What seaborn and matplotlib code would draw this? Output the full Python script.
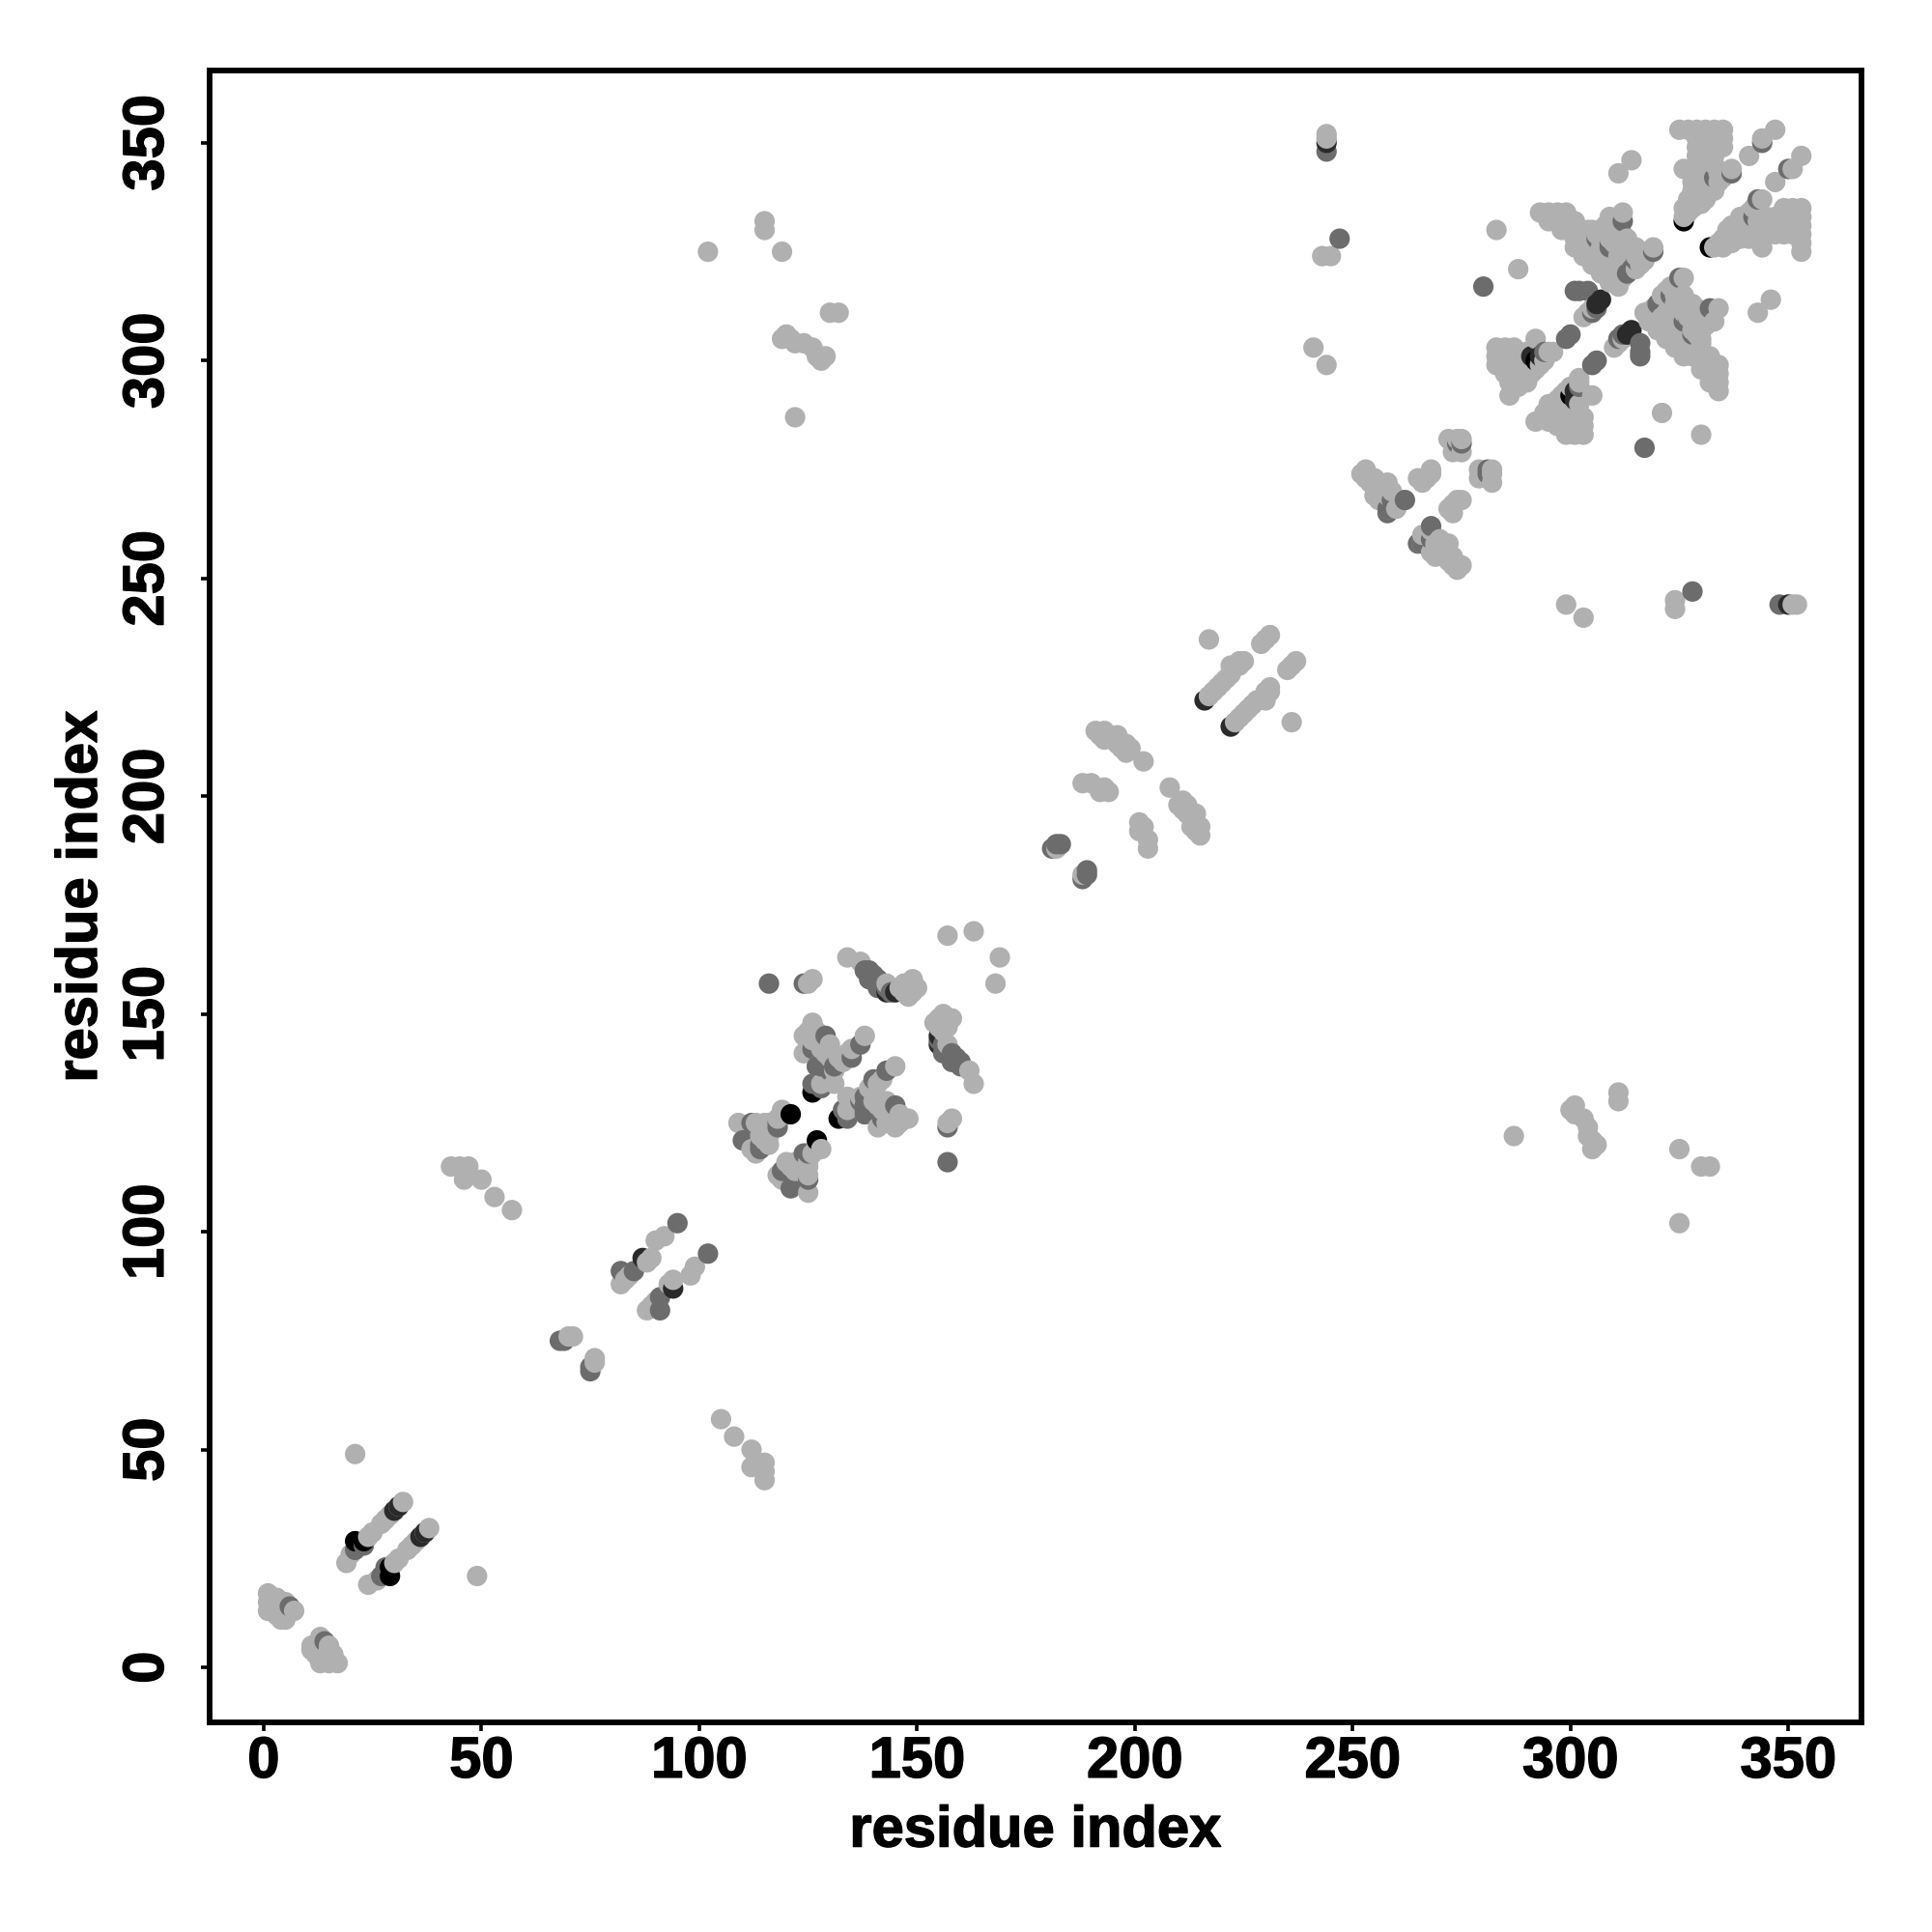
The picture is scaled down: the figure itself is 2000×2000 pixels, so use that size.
import matplotlib
matplotlib.use("Agg")
import matplotlib.pyplot as plt
import matplotlib.patheffects as pe
import pandas as pd
import seaborn as sns

# Contacts, upper triangle (residue i, residue j); mirrored when drawn.
LIGHT = [
 (1,13),(1,15),(1,17),(2,14),(2,16),(3,12),(3,14),(3,16),(4,11),(4,13),(4,15),(5,11),(5,13),(5,15),(7,13),
 (19,24),(20,26),(24,30),(25,31),(27,33),(28,34),(29,35),(31,37),(32,38),(21,49),
 (43,115),(45,115),(47,115),(46,112),(50,112),(53,108),(57,105),
 (70,76),(71,76),(82,88),(83,89),(89,94),(90,98),(92,99),(88,93),(84,90),
 (109,125),(113,125),(115,125),(112,119),(113,118),(116,122),(117,124),(119,128),(120,127),(118,126),(116,125),
 (119,112),(125,109),(116,120),(115,121),(114,122),
 (126,148),(125,146),(127,146),(124,145),(126,144),(128,142),(124,141),(128,134),(127,138),(130,140),(134,141),
 (130,143),(129,141),(131,137),(133,139),(135,142),(138,145),(132,140),(127,144),(131,134),(125,143),
 (134,163),(137,162),(143,157),(147,155),(149,158),(150,156),(148,154),(146,156),(147,157),(149,155),(148,156),
 (157,168),(163,169),(126,158),(125,157),
 (182,188),(188,203),(190,203),(192,201),(194,201),(202,208),(193,202),
 (191,215),(193,215),(192,214),(194,214),(193,213),(195,213),(196,212),(197,211),(198,210),(199,211),(198,212),(196,214),
 (217,223),(218,224),(219,225),(220,226),(221,227),(222,228),(222,230),(223,230),(224,230),(224,231),(225,231),
 (229,235),(230,236),(231,237),(217,236),
 (252,274),(253,274),(253,273),(254,272),(255,273),(255,271),(256,272),(256,270),(257,271),(257,269),(258,272),
 (258,269),(259,270),(258,266),(260,266),(261,268),
 (265,273),(266,272),(267,273),(268,274),(268,275),(272,282),(274,282),(275,282),(273,279),(275,279),(273,281),
 (253,275),(255,269),(256,268),
 (102,325),(115,330),(115,332),(119,325),(120,306),(119,305),(121,305),(122,304),(124,304),(126,303),(127,301),
 (128,300),(129,301),(130,311),(132,311),(122,287),
 (243,324),(245,324),(241,303),(244,299),(244,352),(244,351),
 (283,303),(285,303),(287,303),(283,301),(285,301),(287,301),(289,301),(283,299),(285,299),(287,299),(289,299),
 (291,299),(285,297),(287,297),(289,297),(291,297),(293,299),(286,295),(288,295),(290,295),(286,292),(288,294),
 (290,296),(292,298),(294,300),(295,302),(296,302),(290,302),(292,305),
 (293,334),(295,334),(297,334),(299,334),(295,332),(297,332),(299,332),(301,332),(298,330),(300,330),(302,330),
 (304,330),(301,328),(303,328),(305,328),(301,326),(303,326),(305,326),(307,326),(303,324),(305,324),(307,324),
 (309,324),(305,322),(307,322),(309,322),(311,322),(307,320),(309,320),(311,320),(309,318),(311,318),(311,317),
 (307,330),(309,330),(311,330),(307,328),(309,328),(311,328),(313,328),(309,332),(309,333),(312,334),(311,326),
 (313,326),(315,326),(311,324),(313,324),(315,324),(317,325),(319,326),(316,322),(317,323),(315,321),(283,330),(288,321),
 (305,330),(306,329),(308,331),(310,327),(312,329),(304,327),(306,325),(308,323),(310,321),(312,319),
 (304,311),(303,310),(305,312),
 (311,343),(314,346),
 (325,353),(327,353),(329,353),(331,353),(333,353),(335,353),(329,351),(331,351),(333,351),(335,351),(329,349),
 (331,349),(333,349),(335,349),(329,347),(331,347),(333,347),(329,345),(331,345),(333,345),(326,344),(328,344),
 (330,343),(332,343),(334,343),(336,343),(337,344),(328,341),(330,341),(332,341),(334,341),(328,339),(330,339),
 (332,339),(327,337),(329,337),(331,337),(333,339),(326,335),(328,335),(330,336),(326,333),(327,334),(335,342),
 (344,351),(347,353),(341,347),
]
MEDIUM = [
 (6,14),(21,27),(23,28),(68,75),(69,75),(82,91),(85,91),(95,102),(91,85),
 (112,125),(110,121),(114,120),(118,125),(114,119),(118,124),(126,134),
 (129,145),(126,142),(127,138),(128,138),(129,138),(130,137),(131,138),(135,140),(137,143),(128,133),
 (138,160),(139,160),(140,159),(141,158),(142,157),(143,156),(144,155),(139,158),(141,156),(116,157),(124,157),
 (182,189),(183,189),(181,188),
 (258,265),(259,268),(262,268),(258,266),(274,281),(275,281),
 (244,348),(247,328),(280,317),(299,305),(300,306),(302,316),(304,316),(301,316),(305,311),(306,312),
 (294,302),(309,326),(312,332),(306,328),(319,325),(313,320),(314,321),(315,323),(309,327),(333,342),(337,343),(344,350),
]
DARK = [(30,36),(37,31),(87,94),(145,155),(216,222),(244,350),(306,313),(307,314),(291,301),(293,301),(155,143)]
BLACK = [(21,29),(23,29),(121,127),(126,132),(292,300),(326,332)]

TICKS = [0, 50, 100, 150, 200, 250, 300, 350]
SHADES = {"light": "#b0b0b0", "medium": "#6c6c6c", "dark": "#2a2a2a", "black": "#000000"}

rows = []
for name, pairs in [("light", LIGHT), ("medium", MEDIUM), ("dark", DARK), ("black", BLACK)]:
    for i, j in pairs:
        rows.append((i, j, name))
        rows.append((j, i, name))
df = pd.DataFrame(rows, columns=["x", "y", "shade"]).drop_duplicates().sort_values(["x", "y"], kind="stable")

sns.set_theme(style="white")
plt.rcParams["font.family"] = ["Liberation Sans", "DejaVu Sans"]
plt.rcParams["font.weight"] = "bold"

fig = plt.figure(figsize=(10, 10), dpi=200)
ax = fig.add_axes([217/2000, 1 - 1783/2000, 1710/2000, 1710/2000])
sns.scatterplot(data=df, x="x", y="y", hue="shade", palette=SHADES, s=58, linewidth=0,
                legend=False, ax=ax, clip_on=True)
ax.set_xlim(-12.4, 366.8)
ax.set_ylim(-12.6, 366.6)
ax.set_xticks(TICKS)
ax.set_yticks(TICKS)
ax.set_xticklabels([str(t) for t in TICKS], fontsize=21.5, fontweight="bold")
ax.set_yticklabels([str(t) for t in TICKS], fontsize=21.5, fontweight="bold", rotation=90, va="center")
ax.tick_params(axis="x", length=3.4, width=1.3, color="black", labelcolor="black", bottom=True, pad=1.6)
ax.tick_params(axis="y", length=3.4, width=1.3, color="black", labelcolor="black", left=True, pad=9.6)
for s in ax.spines.values():
    s.set_linewidth(2.1)
    s.set_color("black")
ax.set_xlabel("residue index", fontsize=21.5, fontweight="bold", color="black", labelpad=6)
ax.set_ylabel("residue index", fontsize=21.5, fontweight="bold", color="black", labelpad=5)
stroke = [pe.withStroke(linewidth=0.5, foreground="black")]
for t in ax.get_xticklabels() + ax.get_yticklabels() + [ax.xaxis.label, ax.yaxis.label]:
    t.set_path_effects(stroke)
fig.savefig("out.png", dpi=200, facecolor="white")
